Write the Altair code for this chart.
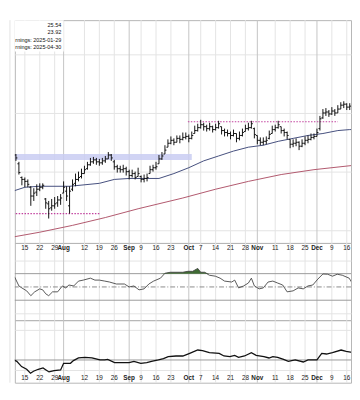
import altair as alt
import pandas as pd

# ---------------- data (trading-day index: 0 = 2024-07-08) ----------------
day_index = list(range(-1, 118))

opens = [19.4, 19.6, 19.5, 19.7, 18.8, 17.4, 17.2, 17.0, 16.4, 15.5,
         15.9, 16.2, 16.4, 15.2, 14.7, 14.3, 14.5, 14.8, 15.1, 15.8,
         16.0, 14.5, 16.2, 16.8, 17.2, 17.5, 17.8, 18.3, 18.7, 19.0,
         19.2, 19.0, 18.9, 19.1, 19.3, 19.7, 19.0, 18.5, 18.3, 18.2,
         18.3, 18.0, 17.6, 17.8, 17.5, 17.5, 17.2, 17.3, 17.8, 18.2,
         18.4, 18.8, 19.3, 19.8, 20.5, 20.9, 21.2, 21.0, 21.4, 21.3,
         21.5, 21.6, 21.4, 21.9, 22.2, 22.5, 22.8, 22.6, 22.4, 22.6,
         22.3, 22.5, 22.6, 22.2, 22.0, 21.9, 21.7, 21.9, 21.4, 21.7,
         22.1, 22.4, 22.5, 22.4, 21.7, 21.2, 21.0, 21.1, 21.4, 21.9,
         22.3, 22.5, 22.6, 22.2, 22.0, 21.3, 20.8, 20.9, 21.0, 20.6,
         20.9, 21.2, 21.3, 21.5, 21.6, 22.4, 23.5, 24.0, 24.1, 23.9,
         24.2, 24.0, 24.4, 24.8, 24.9, 24.6, 24.6, 23.8, 23.2]
highs = [19.8, 19.9, 19.9, 19.8, 19.0, 17.5, 17.4, 17.2, 16.5, 16.3,
         16.7, 16.8, 16.8, 15.3, 15.0, 15.2, 15.4, 15.5, 15.7, 17.0,
         16.5, 16.5, 17.2, 17.8, 18.0, 18.3, 18.6, 19.0, 19.4, 19.5,
         19.4, 19.3, 19.4, 19.6, 20.0, 19.8, 19.2, 18.7, 18.6, 18.7,
         18.5, 18.2, 18.2, 18.0, 18.4, 17.6, 17.7, 17.8, 18.6, 18.7,
         19.0, 19.7, 20.0, 20.7, 21.3, 21.6, 21.4, 21.7, 21.7, 22.0,
         22.0, 21.8, 22.1, 22.7, 22.9, 23.3, 23.0, 22.8, 23.0, 22.7,
         22.9, 23.2, 22.6, 22.4, 22.3, 22.1, 22.3, 21.9, 22.1, 22.4,
         22.8, 23.0, 23.2, 22.5, 21.7, 21.5, 21.5, 21.6, 22.2, 22.7,
         22.8, 23.2, 22.6, 22.4, 22.1, 21.3, 21.3, 21.4, 21.1, 21.3,
         21.6, 21.7, 21.9, 21.9, 22.4, 23.7, 24.4, 24.5, 24.3, 24.6,
         24.4, 24.8, 25.1, 25.2, 25.0, 25.0, 24.7, 23.8, 23.6]
lows = [19.2, 19.2, 19.3, 19.1, 17.7, 16.6, 16.4, 16.4, 14.5, 15.0,
        15.5, 16.0, 16.2, 14.2, 13.2, 14.0, 14.2, 14.4, 14.6, 15.8,
        15.0, 13.7, 16.0, 16.5, 17.0, 17.3, 17.8, 18.2, 18.6, 18.8,
        18.7, 18.6, 18.7, 18.9, 19.3, 19.1, 18.2, 17.9, 17.9, 17.9,
        17.6, 17.2, 17.4, 17.2, 17.5, 16.9, 16.9, 17.0, 17.8, 18.0,
        18.2, 18.8, 19.2, 19.8, 20.5, 20.8, 20.7, 21.0, 20.9, 21.2,
        21.3, 21.0, 21.3, 21.9, 22.1, 22.4, 22.2, 22.1, 22.2, 22.0,
        22.2, 22.4, 21.8, 21.6, 21.6, 21.3, 21.6, 21.0, 21.2, 21.6,
        22.1, 22.2, 22.4, 21.4, 20.8, 20.7, 20.7, 20.8, 21.3, 21.9,
        22.1, 22.4, 21.9, 21.6, 21.3, 20.4, 20.5, 20.6, 20.2, 20.5,
        20.7, 20.9, 21.2, 21.3, 21.6, 22.2, 23.4, 23.7, 23.6, 23.8,
        23.7, 24.0, 24.4, 24.5, 24.3, 24.3, 23.8, 22.8, 22.6]
closes = [19.6, 19.5, 19.7, 19.4, 17.9, 17.2, 17.0, 16.7, 15.5, 15.8,
          16.2, 16.4, 16.6, 14.8, 14.2, 14.5, 14.7, 15.1, 15.3, 16.4,
          15.5, 16.0, 16.7, 17.2, 17.4, 17.8, 18.2, 18.7, 19.0, 19.2,
          19.0, 18.9, 19.1, 19.3, 19.7, 19.4, 18.5, 18.3, 18.2, 18.3,
          18.0, 17.6, 17.8, 17.4, 17.8, 17.2, 17.3, 17.4, 18.2, 18.4,
          18.5, 19.3, 19.6, 20.2, 20.9, 21.2, 21.0, 21.4, 21.3, 21.5,
          21.6, 21.4, 21.7, 22.2, 22.5, 22.8, 22.6, 22.4, 22.6, 22.3,
          22.5, 22.9, 22.2, 22.0, 21.9, 21.7, 21.9, 21.4, 21.7, 22.0,
          22.4, 22.5, 22.9, 21.8, 21.2, 21.0, 21.1, 21.2, 21.8, 22.3,
          22.5, 22.8, 22.2, 22.0, 21.7, 20.8, 20.9, 21.0, 20.6, 20.9,
          21.2, 21.3, 21.5, 21.6, 22.0, 23.4, 24.0, 24.1, 23.9, 24.2,
          24.0, 24.4, 24.8, 24.9, 24.6, 24.7, 24.2, 23.2, 23.0]

ma50_idx = [-1, 5, 10, 20, 30, 35, 40, 45, 50, 55, 60, 65, 70, 75, 80, 85,
            90, 95, 100, 105, 110, 114, 117]
ma50_val = [15.8, 16.4, 16.5, 16.5, 16.8, 17.2, 17.3, 17.3, 17.3, 17.8, 18.4,
            19.1, 19.6, 20.1, 20.5, 20.7, 21.1, 21.4, 21.7, 21.9, 22.2, 22.3, 22.3]
ma200_idx = [-1, 10, 21, 32, 43, 58, 69, 80, 91, 102, 117]
ma200_val = [11.2, 11.8, 12.5, 13.3, 14.2, 15.3, 16.2, 17.0, 17.7, 18.2, 18.7]

rsi_idx = [-1, 0.7, 1.6, 3, 4, 5.6, 7, 8.3, 10, 11, 12, 13, 14.3, 16, 17.6,
           18.7, 19.8, 21.4, 23, 24.6, 27, 28.5, 30, 31.8, 33.4, 35.7, 38.4,
           40, 41.6, 43.3, 45, 46.6, 48.2, 50.5, 52, 53.8, 58, 59.7, 61.3, 63,
           64, 65.3, 66.9, 68.9, 70.5, 72, 74.4, 75.4, 76.7, 78.4, 80, 81, 82,
           83.6, 85, 86.6, 88.2, 89.8, 91.5, 93, 95, 96.7, 98.4, 100, 101.6,
           103.3, 105, 106.6, 108.2, 109.8, 111.5, 113.8, 115.4, 117]
rsi_val = [67.6, 66.2, 64.7, 51.5, 48.5, 44.1, 36.8, 42.6, 47.1, 45.6, 39.7,
           36.8, 42.6, 42.6, 51.5, 48.5, 52.9, 51.5, 58.8, 60.3, 63.2, 60.3,
           60.3, 58.8, 57.4, 54.4, 54.4, 50, 51.5, 45.6, 47.1, 54.4, 58.8,
           63.2, 70.6, 72.1, 72.1, 73.5, 73.5, 77.9, 72.1, 72.1, 67.6, 66.2,
           63.2, 58.8, 57.4, 60.3, 48.5, 51.5, 55.9, 63.2, 51.5, 47.1, 48.5,
           57.4, 58.8, 55.9, 52.9, 42.6, 44.1, 48.5, 47.1, 51.5, 52.9, 61.8,
           69.5, 69.1, 66.2, 69.1, 67.6, 63.2, 51.5, 50]

ind_idx = [-1, 1.3, 2.3, 3.9, 5.6, 6.9, 7.9, 9.5, 11.1, 12.1, 13.1, 14.8, 17,
           18, 20.3, 21.3, 23, 25.2, 27.5, 30.2, 31.8, 32.8, 35.1, 37.4, 40,
           41.6, 43.9, 45.9, 47.5, 49.8, 51.5, 53.1, 55.7, 58, 60.3, 63, 64.6,
           66.9, 70.2, 71.8, 73.8, 75.4, 76.7, 78.7, 81, 82.6, 85.2, 86.9,
           88.2, 89.8, 91.8, 93.4, 95.7, 98.4, 100, 103, 104.6, 106.2, 108.2,
           111.1, 112.8, 115.4, 117]
ind_val = [0.2, 0, -0.4, -2.0, -2.8, -4.0, -3.4, -2.8, -2.4, -3.0, -3.6, -3.2,
           -3.0, -1.0, -1.0, -0.2, 0.6, 0.8, 0.6, 0, 0, 0.2, -0.8, -0.8, -0.8,
           -0.4, -1.0, -0.8, -0.4, 0, 0.4, 1.0, 1.2, 1.2, 2.0, 3.0, 2.8, 2.2,
           2.0, 1.2, 1.0, 1.4, 0.8, 1.2, 2.2, 1.4, 1.0, 0.6, 1.0, 0.8, 0.2,
           -0.4, 0, -0.6, 0, 0, 2.0, 1.8, 2.2, 3.0, 2.6, 2.2, 2.0]

tick_idx = [0, 5, 10, 15, 18, 25, 30, 35, 40, 44, 49, 54, 60, 64, 69, 74, 79,
            83, 89, 94, 99, 103, 108, 113]
tick_lbl = ["8", "15", "22", "29", "Aug", "12", "19", "26", "Sep", "9", "16",
            "23", "Oct", "7", "14", "21", "28", "Nov", "11", "18", "25", "Dec",
            "9", "16"]
month_idx = [18, 40, 60, 83, 103]

legend_lines = ["25.54", "23.92", "rnings: 2025-01-29", "rnings: 2025-04-30"]

support_span = [-1, 30]
support_level = 13.7
resist_span = [59.7, 110]
resist_level = 23.1
band_span = [-1, 61]
band_range = [19.2, 19.8]

# ---------------- scales / helpers ----------------
W = 344
xs = alt.Scale(domain=[1.64, 114.43], nice=False, zero=False)
ps = alt.Scale(domain=[10.7, 33.5], nice=False, zero=False)
rs = alt.Scale(domain=[0, 116.2], nice=False, zero=False)
bs = alt.Scale(domain=[-6.85, 12], nice=False, zero=False)


def hgrid_axis(vals):
    return alt.Axis(values=vals, grid=True, gridColor="#e3e3e3", labels=False,
                    ticks=False, domain=False)


def X(field, **kw):
    return alt.X(field, scale=xs, title=None, **kw)


grid_df = pd.DataFrame({"i": tick_idx, "t": tick_lbl,
                        "month": [v in month_idx for v in tick_idx]})


def vgrid():
    minor = alt.Chart(grid_df).transform_filter("!datum.month").mark_rule(
        color="#e3e3e3", strokeWidth=1).encode(x=X("i:Q"))
    major = alt.Chart(grid_df).transform_filter("datum.month").mark_rule(
        color="#c4c4c4", strokeWidth=1).encode(x=X("i:Q"))
    return [minor, major]


def date_labels(ypix):
    base = dict(font="Liberation Sans", fontSize=6.5, color="#222",
                baseline="middle", clip=True)
    normal = alt.Chart(grid_df).transform_filter("!datum.month").mark_text(
        **base).encode(x=X("i:Q"), y=alt.value(ypix), text="t:N")
    bold = alt.Chart(grid_df).transform_filter("datum.month").mark_text(
        fontWeight="bold", **base).encode(x=X("i:Q"), y=alt.value(ypix), text="t:N")
    return [normal, bold]


# ---------------- price panel ----------------
ohlc = pd.DataFrame({"i": day_index, "o": opens, "h": highs, "l": lows, "c": closes})
ma50 = pd.DataFrame({"i": ma50_idx, "v": ma50_val})
ma200 = pd.DataFrame({"i": ma200_idx, "v": ma200_val})
one = pd.DataFrame({"a": [0]})


def PY(field, **kw):
    return alt.Y(field, scale=ps, title=None, **kw)


gridy = alt.Chart(one).mark_rule(opacity=0).encode(
    y=PY("a:Q", axis=hgrid_axis([12, 15, 18, 21, 24, 27, 30, 33])))

band = alt.Chart(pd.DataFrame({"x1": [band_span[0]], "x2": [band_span[1]],
                               "y1": [band_range[0]], "y2": [band_range[1]]})
                 ).mark_rect(color="#c9cdf2", opacity=0.85, clip=True).encode(
    x=X("x1:Q"), x2="x2:Q", y=PY("y1:Q"), y2="y2:Q")

levels = pd.DataFrame({"x1": [support_span[0], resist_span[0]],
                       "x2": [support_span[1], resist_span[1]],
                       "y": [support_level, resist_level]})
level_rules = alt.Chart(levels).mark_rule(
    color="#c2409e", strokeWidth=1.2, strokeDash=[1.5, 1.5], clip=True).encode(
    x=X("x1:Q"), x2="x2:Q", y=PY("y:Q"))

line50 = alt.Chart(ma50).mark_line(color="#434d7c", strokeWidth=1, clip=True).encode(
    x=X("i:Q"), y=PY("v:Q"))
line200 = alt.Chart(ma200).mark_line(color="#b0566c", strokeWidth=1, clip=True).encode(
    x=X("i:Q"), y=PY("v:Q"))

hl = alt.Chart(ohlc).mark_rule(color="#111", strokeWidth=1, clip=True).encode(
    x=X("i:Q"), y=PY("l:Q"), y2="h:Q")
op = alt.Chart(ohlc).transform_calculate(xa="datum.i - 0.5").mark_rule(
    color="#111", strokeWidth=1, clip=True).encode(
    x=X("xa:Q"), x2="i:Q", y=PY("o:Q"))
cl = alt.Chart(ohlc).transform_calculate(xb="datum.i + 0.5").mark_rule(
    color="#111", strokeWidth=1, clip=True).encode(
    x=X("i:Q"), x2="xb:Q", y=PY("c:Q"))

legend_box = alt.Chart(one).mark_rect(color="white").encode(
    x=alt.value(0), x2=alt.value(50), y=alt.value(0), y2=alt.value(32))
legend_text = alt.Chart(one).mark_text(
    align="right", baseline="top", font="Liberation Sans", fontSize=5.6,
    lineHeight=7.5, color="#111").encode(
    x=alt.value(47.5), y=alt.value(3), text=alt.value(legend_lines))

price = alt.layer(*vgrid(), gridy, band, level_rules, line200, line50,
                  hl, op, cl, legend_box, legend_text).properties(width=W, height=228)

# ---------------- RSI panel (top strip holds the date labels) ----------------
rsi_df = pd.DataFrame({"i": rsi_idx, "v": rsi_val})


def RY(field, **kw):
    return alt.Y(field, scale=rs, title=None, **kw)


rgrid = alt.Chart(one).mark_rule(opacity=0).encode(
    y=RY("a:Q", axis=hgrid_axis([10, 20, 80, 90])))
rlev = alt.Chart(pd.DataFrame({"v": [30, 70]})).mark_rule(
    color="#9a9a9a", strokeWidth=1).encode(y=RY("v:Q"))
rmid = alt.Chart(pd.DataFrame({"v": [50]})).mark_rule(
    color="#8a8a8a", strokeWidth=1, strokeDash=[5, 2, 1, 2]).encode(y=RY("v:Q"))
rfill = alt.Chart(rsi_df).transform_calculate(
    top="max(datum.v, 70)", base="70").mark_area(
    color="#3f6a33", clip=True).encode(x=X("i:Q"), y=RY("top:Q"), y2="base:Q")
rline = alt.Chart(rsi_df).mark_line(color="#444", strokeWidth=0.9, clip=True).encode(
    x=X("i:Q"), y=RY("v:Q"))

rsi = alt.layer(*vgrid(), rgrid, rlev, rmid, rfill, rline,
                *date_labels(5.5)).properties(width=W, height=79)

# ---------------- bottom indicator panel (bottom strip holds labels) ----------------
ind_df = pd.DataFrame({"i": ind_idx, "v": ind_val})


def BY(field, **kw):
    return alt.Y(field, scale=bs, title=None, **kw)


bgrid = alt.Chart(one).mark_rule(opacity=0).encode(
    y=BY("a:Q", axis=hgrid_axis([-3, 3, 6, 9])))
bzero = alt.Chart(pd.DataFrame({"v": [0]})).mark_rule(
    color="#9a9a9a", strokeWidth=1).encode(y=BY("v:Q"))
bline = alt.Chart(ind_df).mark_line(color="#111", strokeWidth=1.3, clip=True).encode(
    x=X("i:Q"), y=BY("v:Q"))

bottom = alt.layer(*vgrid(), bgrid, bzero, bline,
                   *date_labels(59.5)).properties(width=W, height=64)

chart = alt.vconcat(price, rsi, bottom, spacing=0, bounds="flush").properties(
    padding={"top": 7, "left": 0, "right": 0, "bottom": 0}
).configure_view(stroke="#b5b5b5", strokeWidth=1).configure_axis(
    labels=False, ticks=False, domain=False, grid=False)

chart.save("out.html", embed_options={"renderer": "svg", "actions": False})
